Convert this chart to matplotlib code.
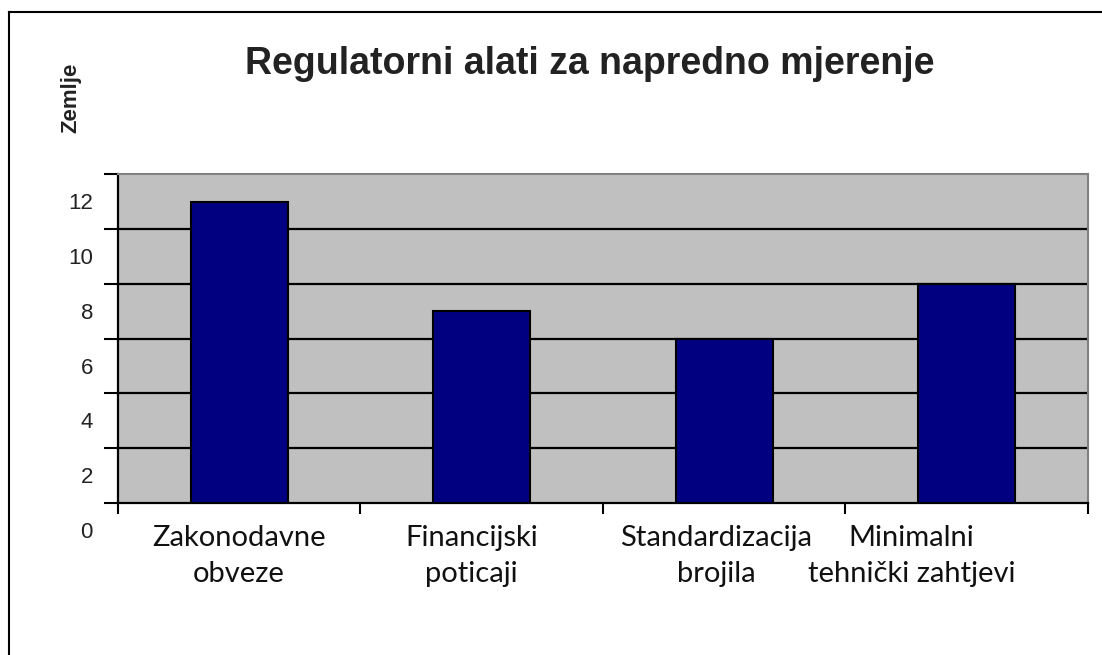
import matplotlib.pyplot as plt
import matplotlib.transforms as mtransforms
from matplotlib.lines import Line2D

# Regulatorni alati za napredno mjerenje
categories = ['Zakonodavne\nobveze', 'Financijski\npoticaji',
              'Standardizacija\nbrojila', 'Minimalni\ntehnički zahtjevi']
values = [11, 7, 6, 8]
yticks = [0, 2, 4, 6, 8, 10, 12]

fig = plt.figure(figsize=(11.02, 6.55), dpi=100)
ax = fig.add_axes([0.107, 0.232, 0.880, 0.502])
ax.set_facecolor('#c0c0c0')

x = range(len(values))
ax.bar(x, values, width=0.4, color='#000080', edgecolor='black', linewidth=1.5, zorder=3)

ax.set_xlim(-0.5, len(values) - 0.5)
ax.set_ylim(0, 12)

# horizontal grid
ax.set_yticks(yticks)
ax.set_yticklabels([str(v) for v in yticks], fontsize=16, family='Liberation Sans', color='#222222')
for v in yticks[1:-1]:
    ax.axhline(v, color='black', linewidth=1.6, zorder=2)
ax.tick_params(axis='y', length=10, width=1.5, pad=8, direction='out')
# labels sit half a step below their tick (as in the original)
off = mtransforms.ScaledTranslation(0, -0.27, fig.dpi_scale_trans)
for lab in ax.get_yticklabels():
    lab.set_transform(lab.get_transform() + off)

# x axis: labels at centres, ticks at category boundaries
ax.set_xticks(list(x))
ax.set_xticklabels(categories, fontsize=21, family='Lato', color='#111111', linespacing=1.45)
ax.tick_params(axis='x', length=0, pad=16)
ax.set_xticks([i - 0.5 for i in range(len(values) + 1)], minor=True)
ax.tick_params(axis='x', which='minor', length=8, width=1.5, direction='out')
shifts = [0.0, -0.10, -0.08, -0.55]
for lab, dx in zip(ax.get_xticklabels(), shifts):
    lab.set_transform(lab.get_transform() + mtransforms.ScaledTranslation(dx, 0, fig.dpi_scale_trans))

for s in ['top', 'right']:
    ax.spines[s].set_color('#808080')
    ax.spines[s].set_linewidth(1.5)
for s in ['left', 'bottom']:
    ax.spines[s].set_color('black')
    ax.spines[s].set_linewidth(1.6)

fig.text(0.535, 0.902, 'Regulatorni alati za napredno mjerenje', fontsize=27,
         fontweight='bold', family='Liberation Sans', color='#222222', ha='center', va='center')
fig.text(0.064, 0.85, 'Zemlje', rotation=90, fontsize=16, fontweight='bold',
         family='Liberation Sans', color='#222222', ha='center', va='center')

# outer frame (top and left edges visible)
fig.add_artist(Line2D([9 / 1102, 1.0], [1 - 12 / 655, 1 - 12 / 655], color='black', linewidth=1.5))
fig.add_artist(Line2D([9 / 1102, 9 / 1102], [0.0, 1 - 12 / 655], color='black', linewidth=1.5))

fig.savefig('out.png', dpi=100)
